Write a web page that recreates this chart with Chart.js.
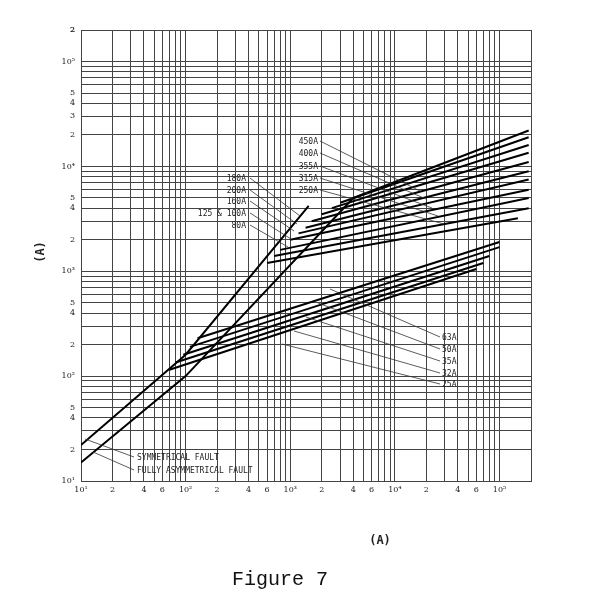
<!DOCTYPE html>
<html><head><meta charset="utf-8">
<script src="https://cdn.jsdelivr.net/npm/chart.js@4.4.1/dist/chart.umd.min.js"></script>
<style>html,body{margin:0;background:#fff}#w{width:600px;height:600px}</style>
</head><body><div id="w"><canvas id="c"></canvas></div>
<script>
// Fault lines (prospective current -> peak let-through)
const symFaultX = [10, 100, 1500];
const symFaultY = [22, 160, 4200];
const asymFaultX = [10, 100, 4000];
const asymFaultY = [15, 100, 5000];
// Fuse cut-off curves: knee point -> end point
const fuseLabels = ['450A','400A','355A','315A','250A','200A','180A','160A','125A','100A','80A','63A','50A','35A','32A','25A'];
const kneeX = [4000,3000,2500,2000,1600,1400,1200,1000,800,700,600,130,110,95,80,70];
const kneeY = [5000,4500,4000,3500,3000,2600,2300,2000,1600,1400,1200,230,190,160,135,115];
const endX  = [190000,190000,190000,190000,190000,190000,190000,190000,190000,190000,150000,100000,100000,80000,70000,60000];
const endY  = [22000,19000,16000,13500,11000,9000,7500,6000,5000,4000,3200,1900,1700,1400,1200,1050];
const xTicks = [];
for (let d = 10; d <= 1e5; d *= 10) for (let m = 1; m <= 9; m++) if (d*m <= 2e5) xTicks.push(d*m);
xTicks.push(2e5);
const yTicks = xTicks.slice();
const sup = {1:'¹',2:'²',3:'³',4:'⁴',5:'⁵'};

const datasets = [];
const line = (xs, ys) => ({data: xs.map((x,i)=>({x, y: ys[i]})), showLine:true, borderColor:'#000', borderWidth:2, pointRadius:0, fill:false, tension:0});
datasets.push(line(symFaultX, symFaultY));
datasets.push(line(asymFaultX, asymFaultY));
fuseLabels.forEach((l,i)=>datasets.push(line([kneeX[i], endX[i]], [kneeY[i], endY[i]])));

function lbl(v, yAxis){
  const e = Math.round(Math.log10(v)); const m = Math.round(v/Math.pow(10, Math.floor(Math.log10(v)+1e-9)));
  if (Math.abs(v - Math.pow(10,e)) < 1e-6*v) return '10' + sup[e];
  if (yAxis) return (m===2||m===4||m===5||(m===3&&v>1e4)) ? String(m) : '';
  if (v > 1e5) return '';
  return (m===2||m===4||m===6) ? String(m) : '';
}

const annot = {
  id:'annot',
  afterDraw(ch){
    const c = ch.ctx; c.save();
    c.fillStyle='#222'; c.strokeStyle='#333'; c.lineWidth=0.8;
    c.font = '8px "DejaVu Sans Mono"';
    const up = [['450A',141],['400A',153],['355A',166],['315A',178],['250A',190]];
    up.forEach(([t,y],i)=>{c.textAlign='right';c.fillText(t,318,y+3);c.beginPath();c.moveTo(320,y);c.lineTo(420+i*6,y+50-i*4);c.stroke();});
    const lf = [['180A',178],['200A',190],['160A',201],['125 & 100A',213],['80A',225]];
    lf.forEach(([t,y],i)=>{c.textAlign='right';c.fillText(t,246,y+3);c.beginPath();c.moveTo(250,y);c.lineTo(300-i*3,y+38-i*4);c.stroke();});
    const lo = [['63A',337],['50A',349],['35A',361],['32A',373],['25A',384]];
    lo.forEach(([t,y],i)=>{c.textAlign='left';c.fillText(t,442,y+3);c.beginPath();c.moveTo(440,y);c.lineTo(330-i*12,y-48+i*2);c.stroke();});
    [['SYMMETRICAL FAULT',457],['FULLY ASYMMETRICAL FAULT',470]].forEach(([t,y],i)=>{c.textAlign='left';c.fillText(t,137,y+3);c.beginPath();c.moveTo(134,y);c.lineTo(85+i*8,y-18);c.stroke();});
    c.font='bold 12px "DejaVu Sans Mono"'; c.textAlign='center';
    c.fillText('(A)',380,544);
    c.save(); c.translate(40,252); c.rotate(-Math.PI/2); c.fillText('(A)',0,4); c.restore();
    c.font='20px "Liberation Mono"'; c.fillStyle='#111';
    c.fillText('Figure 7',280,585);
    c.restore();
  }
};

new Chart(document.getElementById('c'), {
  type:'scatter',
  data:{datasets},
  options:{
    responsive:true, maintainAspectRatio:false, animation:false,
    layout:{padding:{left:0,right:69,top:30,bottom:99}},
    plugins:{legend:{display:false},tooltip:{enabled:false}},
    scales:{
      x:{type:'logarithmic',min:10,max:2e5,
        afterBuildTicks:s=>{s.ticks=xTicks.map(v=>({value:v}));},
        afterFit:s=>{s.height=20;},
        grid:{color:'#444',lineWidth:1,drawTicks:false},border:{color:'#444'},
        ticks:{autoSkip:false,maxRotation:0,color:'#222',font:{size:8,family:'DejaVu Serif'},padding:4,callback:(v)=>lbl(v,false)}},
      y:{type:'logarithmic',min:10,max:2e5,
        afterBuildTicks:s=>{s.ticks=yTicks.map(v=>({value:v}));},
        afterFit:s=>{s.width=81;},
        grid:{color:'#444',lineWidth:1,drawTicks:false},border:{color:'#444'},
        ticks:{autoSkip:false,color:'#222',font:{size:8,family:'DejaVu Serif'},padding:6,callback:(v)=>lbl(v,true)}}
    }
  },
  plugins:[annot]
});
</script></body></html>
